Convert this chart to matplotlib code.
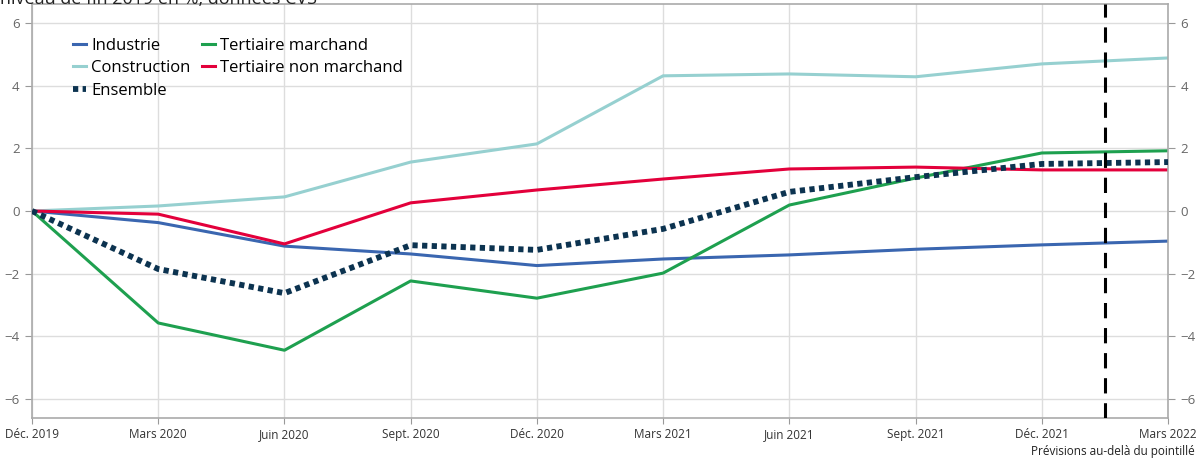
import numpy as np
import matplotlib.pyplot as plt

plt.rcParams["font.family"] = ["Open Sans", "DejaVu Sans"]

quarters = ["Déc. 2019", "Mars 2020", "Juin 2020", "Sept. 2020", "Déc. 2020",
            "Mars 2021", "Juin 2021", "Sept. 2021", "Déc. 2021", "Mars 2022"]

industrie = [0, -0.37, -1.12, -1.37, -1.74, -1.53, -1.40, -1.22, -1.08, -0.96]
construction = [0, 0.16, 0.45, 1.56, 2.14, 4.31, 4.37, 4.28, 4.69, 4.88]
tert_marchand = [0, -3.57, -4.44, -2.23, -2.78, -1.98, 0.19, 1.05, 1.85, 1.92]
tert_non_marchand = [0, -0.10, -1.05, 0.26, 0.67, 1.02, 1.34, 1.40, 1.31, 1.31]
ensemble = [0, -1.85, -2.62, -1.09, -1.24, -0.57, 0.61, 1.08, 1.50, 1.56]

forecast_start = 8.5

x = np.arange(len(quarters))

fig = plt.figure(figsize=(12.03, 4.61), dpi=100)
ax = fig.add_axes([0.0266, 0.0933, 0.9443, 0.898])

ax.plot(x, industrie, color="#3a66b0", lw=2.2, label="Industrie")
ax.plot(x, construction, color="#96d0d0", lw=2.2, label="Construction")
ax.plot(x, ensemble, color="#0c3350", lw=4.2, linestyle=(0, (0.9, 0.75)),
        dash_capstyle="butt", label="Ensemble", zorder=5)
ax.plot(x, tert_marchand, color="#1ea04f", lw=2.2, label="Tertiaire marchand")
ax.plot(x, tert_non_marchand, color="#e3003b", lw=2.2, label="Tertiaire non marchand")

ax.axvline(forecast_start, color="black", lw=2.2, linestyle=(0, (5, 3.2)), zorder=6)

ax.set_xlim(0, len(quarters) - 1)
ax.set_ylim(-6.6, 6.6)
ax.set_xticks(x, quarters)
ax.set_yticks(np.arange(-6, 7, 2))
ax.set_yticklabels([str(v).replace("-", "\u2212") for v in range(-6, 7, 2)])
ax.grid(True, color="#dddddd", lw=1)
ax.set_axisbelow(True)

ax.tick_params(axis="x", labelsize=8.5, labelcolor="#333333", color="#999999", length=4, pad=3)
ax.tick_params(axis="y", labelsize=9.5, labelcolor="#666666", color="#999999", length=5,
               left=True, right=True, labelleft=True, labelright=True, pad=4)
for s in ax.spines.values():
    s.set_color("#aaaaaa")
    s.set_linewidth(1.2)

ax.legend(loc="upper left", bbox_to_anchor=(0.03, 0.935), ncol=2, frameon=False,
          fontsize=12, handlelength=0.8, handletextpad=0.3, columnspacing=0.7,
          labelspacing=0.4, borderaxespad=0)

fig.text(0.0, 1.003, "niveau de fin 2019 en %, données CVS", fontsize=13, color="#222222",
         ha="left", va="center")
fig.text(0.993, 0.02, "Prévisions au-delà du pointillé", fontsize=8.5, color="#222222",
         ha="right", va="center")

fig.savefig("out.png", dpi=100)
